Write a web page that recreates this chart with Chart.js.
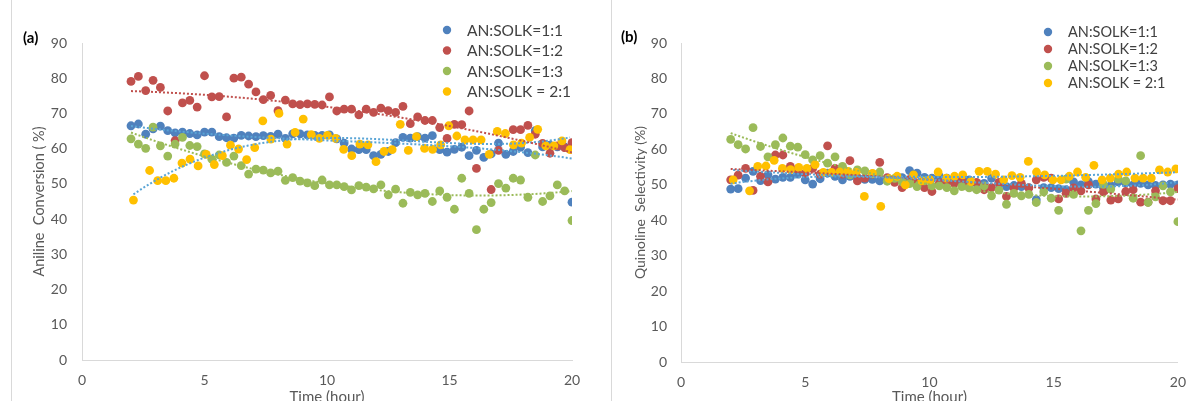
<!DOCTYPE html>
<html>
<head>
<meta charset="utf-8">
<script src="https://cdn.jsdelivr.net/npm/chart.js@4.4.0/dist/chart.umd.min.js"></script>
<style>
  body { margin:0; background:#fff; width:1198px; height:401px; overflow:hidden; position:relative; }
  .frame { position:absolute; top:0; width:0; height:401px; border-left:1px solid #d9d9d9; }
  canvas { position:absolute; top:0; }
</style>
</head>
<body>
<div class="frame" style="left:11px;"></div>
<div class="frame" style="left:611px;"></div>
<canvas id="chart-a" width="600" height="401" style="left:0;"></canvas>
<canvas id="chart-b" width="598" height="401" style="left:600px;"></canvas>
<script>
// ---- data ----
const seriesLabels = ['AN:SOLK=1:1', 'AN:SOLK=1:2', 'AN:SOLK=1:3', 'AN:SOLK = 2:1'];
const seriesColors = ['#4F81BD', '#C0504D', '#9BBB59', '#FFC000'];
const trendColors = ['#5AA5D6', '#C0504D', '#9BBB59', '#5AA5D6'];
const trendOrders = [3, 2, 2, 3];

// sampling times (hour) for 1:1, 1:2, 1:3
const timeHours = [2.0, 2.3, 2.6, 2.9, 3.2, 3.5, 3.8, 4.1, 4.4, 4.7,
    5.0, 5.3, 5.6, 5.9, 6.2, 6.5, 6.8, 7.1, 7.4, 7.7,
    8.0, 8.3, 8.6, 8.9, 9.2, 9.5, 9.8, 10.1, 10.4, 10.7,
    11.0, 11.3, 11.6, 11.9, 12.2, 12.5, 12.8, 13.1, 13.4, 13.7,
    14.0, 14.3, 14.6, 14.9, 15.2, 15.5, 15.8, 16.1, 16.4, 16.7,
    17.0, 17.3, 17.6, 17.9, 18.2, 18.5, 18.8, 19.1, 19.4, 19.7,
    20.0];
// sampling times (hour) for 2:1
const timeHours21 = [2.10, 2.43, 2.76, 3.09, 3.42, 3.75, 4.08, 4.41, 4.74, 5.07,
    5.40, 5.73, 6.06, 6.39, 6.72, 7.05, 7.38, 7.71, 8.04, 8.37,
    8.70, 9.03, 9.36, 9.69, 10.02, 10.35, 10.68, 11.01, 11.34, 11.67,
    12.00, 12.33, 12.66, 12.99, 13.32, 13.65, 13.98, 14.31, 14.64, 14.97,
    15.30, 15.63, 15.96, 16.29, 16.62, 16.95, 17.28, 17.61, 17.94, 18.27,
    18.60, 18.93, 19.26, 19.59, 19.92];

// (a) aniline conversion (%)
const convBlue = [66.5, 67.0, 64.1, 65.6, 66.4, 65.1, 64.5, 64.7, 64.3, 63.9,
    64.7, 64.7, 63.4, 63.1, 63.0, 63.8, 63.6, 63.4, 63.7, 63.5,
    64.1, 62.9, 64.2, 64.2, 63.9, 63.8, 63.8, 63.9, 62.8, 61.6,
    59.9, 59.7, 59.7, 58.0, 58.4, 59.2, 61.7, 63.2, 63.0, 63.4,
    63.0, 63.7, 59.7, 59.0, 59.8, 60.4, 58.0, 59.5, 57.5, 58.5,
    61.6, 58.4, 59.2, 60.4, 58.9, 65.1, 60.5, 61.0, 60.5, 60.5,
    44.8];
const convRed = [79.1, 80.5, 76.5, 79.4, 77.4, 70.7, 62.3, 73.0, 73.7, 71.8,
    80.7, 74.7, 74.8, 69.0, 80.0, 80.3, 78.3, 76.1, 73.9, 75.1,
    70.8, 73.8, 72.7, 72.5, 72.7, 72.6, 72.4, 74.7, 70.7, 71.2,
    71.2, 69.6, 71.2, 70.3, 71.5, 70.8, 70.3, 72.0, 67.1, 69.0,
    68.0, 68.0, 66.0, 62.9, 66.9, 66.8, 70.7, 54.4, null, 48.4,
    59.5, null, 65.4, 65.4, 66.6, 64.1, 61.5, 58.7, 60.8, 60.3,
    61.7];
const convGreen = [62.8, 61.3, 60.1, 66.1, 60.8, 57.9, 61.3, 63.2, 60.9, 60.6,
    58.5, 57.0, 58.2, 56.1, 57.9, 55.2, 52.8, 54.2, 53.9, 53.1,
    53.6, 51.0, 51.8, 50.8, 50.3, 49.5, 51.1, 49.7, 49.7, 49.2,
    48.3, 49.5, 49.1, 48.6, 49.7, 46.9, 48.5, 44.5, 47.6, 46.9,
    47.3, 45.0, 48.0, 46.2, 42.8, 51.6, 47.3, 37.0, 42.8, 44.7,
    50.1, 48.8, 51.6, 51.1, 46.2, 58.2, 45.0, 46.6, 49.7, 48.0,
    39.6];
const convOrange = [45.4, null, 53.8, 50.9, 50.9, 51.6, 55.9, 57.0, 55.1, 58.4,
    55.5, 58.0, 61.0, 59.9, 56.9, 60.3, 67.9, 62.7, 70.0, 61.3,
    64.6, 68.4, 64.0, 62.9, 63.8, 62.9, 59.8, 58.0, 61.3, 61.1,
    56.3, 59.2, 59.7, 66.9, 59.5, 63.4, 60.1, 59.8, 61.1, 66.5,
    63.6, 62.5, 62.5, 62.5, 58.4, 64.9, 64.3, 61.1, 61.6, 63.2,
    65.5, 60.8, 60.8, 62.2, 59.7];

// (b) quinoline selectivity (%)
const selBlue = [48.8, 48.9, 51.9, 53.8, 51.2, 52.8, 51.6, 52.1, 52.1, 53.0,
    51.4, 50.2, 51.7, 53.3, 52.4, 51.4, 52.4, 52.0, 51.5, 51.5,
    51.1, 51.5, 51.0, 52.0, 54.0, 53.3, 52.1, 51.9, 52.4, 51.9,
    50.9, 50.4, 51.4, 50.4, 50.4, 51.9, 50.4, 49.5, 49.8, 49.5,
    49.2, 45.8, 49.2, 49.2, 48.9, 48.6, 50.8, 50.0, 50.9, 50.2,
    49.2, 49.8, 50.8, 50.5, 50.0, 50.4, 50.0, 49.8, 50.0, 50.2,
    50.0];
const selRed = [51.4, 52.7, 54.6, 48.4, 52.4, 50.8, 58.4, 58.4, 55.2, 54.5,
    53.3, 54.6, 53.0, 61.0, 54.6, 53.0, 56.8, 51.1, 51.9, 53.0,
    56.3, 52.0, 50.7, 49.2, 51.5, 50.5, 49.2, 48.1, 50.5, 50.9,
    50.4, 51.4, 50.0, 50.7, 48.6, 49.2, 50.7, 46.7, 49.1, 50.4,
    49.1, 51.4, 52.1, 51.9, 46.0, 47.6, 49.1, 48.3, 50.0, 46.0,
    48.0, 45.7, 46.0, 48.1, 48.6, 45.1, 45.1, 48.3, 45.5, 45.5,
    48.9];
const selGreen = [62.8, 61.3, 60.1, 66.1, 60.8, 57.9, 61.3, 63.2, 60.9, 60.6,
    58.5, 57.0, 58.2, 56.1, 57.9, 55.2, 52.8, 54.2, 53.9, 53.1,
    53.6, 51.0, 51.8, 50.8, 50.3, 49.5, 51.1, 49.7, 49.7, 49.2,
    48.3, 49.5, 49.1, 48.6, 49.7, 46.9, 48.5, 44.5, 47.6, 46.9,
    47.3, 45.0, 48.0, 46.2, 42.8, 51.6, 47.3, 37.0, 42.8, 44.7,
    50.1, 48.8, 51.6, 51.1, 46.2, 58.2, 45.0, 46.6, 49.7, 48.0,
    39.6];
const selOrange = [51.4, null, 48.3, 55.2, 55.3, 56.9, 54.6, 54.3, 54.9, 54.6,
    55.7, 53.5, 53.5, 53.6, 53.8, 53.5, 46.7, 53.2, 43.9, 51.7,
    52.4, 50.0, 52.8, 51.1, 51.4, 53.6, 51.9, 52.4, 52.8, 50.9,
    53.8, 53.8, 53.0, 51.4, 52.6, 52.1, 56.6, 53.6, 52.8, 51.4,
    51.4, 52.4, 53.6, 52.1, 55.5, 51.4, 51.9, 53.0, 53.6, 51.9,
    51.9, 51.9, 54.2, 53.6, 54.5];

const xTicks = [0, 5, 10, 15, 20];
const yTicks = [0, 10, 20, 30, 40, 50, 60, 70, 80, 90];

const FONT = 'Lato, "Open Sans", sans-serif';

function toPoints(xs, ys) {
    return xs.map((x, i) => ({ x: x, y: ys[i] })).filter(p => p.y !== null);
}

// least-squares polynomial trendline (like the spreadsheet trendline)
function polyTrend(points, order) {
    const n = order + 1;
    const m = [];
    for (let i = 0; i < n; i++) m.push(new Array(n + 1).fill(0));
    points.forEach(p => {
        for (let i = 0; i < n; i++) {
            for (let j = 0; j < n; j++) m[i][j] += Math.pow(p.x, i + j);
            m[i][n] += Math.pow(p.x, i) * p.y;
        }
    });
    for (let i = 0; i < n; i++) {
        for (let j = i + 1; j < n; j++) {
            const f = m[j][i] / m[i][i];
            for (let k = i; k <= n; k++) m[j][k] -= f * m[i][k];
        }
    }
    const c = new Array(n).fill(0);
    for (let i = n - 1; i >= 0; i--) {
        let v = m[i][n];
        for (let k = i + 1; k < n; k++) v -= m[i][k] * c[k];
        c[i] = v / m[i][i];
    }
    const x0 = points[0].x, x1 = points[points.length - 1].x;
    const out = [];
    for (let i = 0; i <= 80; i++) {
        const x = x0 + (x1 - x0) * i / 80;
        let y = 0;
        for (let k = 0; k < n; k++) y += c[k] * Math.pow(x, k);
        out.push({ x: x, y: y });
    }
    return out;
}

function buildDatasets(seriesValues) {
    const scatter = [], trends = [];
    seriesValues.forEach((vals, i) => {
        const xs = i === 3 ? timeHours21 : timeHours;
        const pts = toPoints(xs, vals);
        scatter.push({
            label: seriesLabels[i], data: pts, legend: true,
            backgroundColor: seriesColors[i], borderColor: seriesColors[i],
            pointRadius: 4.4, pointBorderWidth: 0, order: 4 - i
        });
        trends.push({
            label: seriesLabels[i] + ' trend', data: polyTrend(pts, trendOrders[i]), showLine: true,
            borderColor: trendColors[i], borderWidth: 2, borderDash: [2, 2],
            pointRadius: 0, fill: false, order: 0
        });
    });
    return scatter.concat(trends);
}

const panelText = {
    id: 'panelText',
    afterDraw(chart, args, opts) {
        const ctx = chart.ctx;
        ctx.save();
        ctx.fillStyle = '#000';
        ctx.font = 'bold 15px ' + FONT;
        ctx.textAlign = 'left';
        ctx.textBaseline = 'middle';
        ctx.fillText(opts.letter, opts.letterX, opts.letterY);

        // axis titles
        ctx.fillStyle = '#595959';
        ctx.font = opts.xTitleSize + 'px ' + FONT;
        ctx.textAlign = 'center';
        ctx.fillText('Time (hour)', (chart.chartArea.left + chart.chartArea.right) / 2, opts.xTitleY);
        ctx.save();
        ctx.font = opts.yTitleSize + 'px ' + FONT;
        ctx.translate(opts.yTitleX, (chart.chartArea.top + chart.chartArea.bottom) / 2);
        ctx.rotate(-Math.PI / 2);
        ctx.fillText(opts.yTitle, 0, 0);
        ctx.restore();

        // legend
        ctx.textAlign = 'left';
        ctx.font = opts.legendSize + 'px ' + FONT;
        let row = 0;
        chart.data.datasets.forEach(ds => {
            if (!ds.legend) return;
            const y = opts.legendY + row * opts.legendStep;
            ctx.fillStyle = ds.backgroundColor;
            ctx.beginPath();
            ctx.arc(opts.legendX, y, 4.2, 0, Math.PI * 2);
            ctx.fill();
            ctx.fillStyle = '#404040';
            ctx.fillText(ds.label, opts.legendX + 20, y + 0.5);
            row++;
        });
        ctx.restore();
    }
};

function makeChart(id, datasets, text, pad, yTickPad, xAxisH) {
    new Chart(document.getElementById(id), {
        type: 'scatter',
        data: { datasets: datasets },
        options: {
            responsive: false, animation: false, devicePixelRatio: 1,
            layout: { padding: pad, autoPadding: false },
            plugins: { legend: { display: false }, tooltip: { enabled: false }, panelText: text },
            scales: {
                x: {
                    type: 'linear', min: 0, max: 20,
                    afterFit: s => { s.height = xAxisH; },
                    afterBuildTicks: s => { s.ticks = xTicks.map(v => ({ value: v })); },
                    grid: { display: false, drawTicks: false },
                    border: { color: '#D9D9D9', width: 1 },
                    ticks: { color: '#595959', padding: 12, font: { family: FONT, size: 14 } }
                },
                y: {
                    min: 0, max: 90,
                    afterFit: s => { s.width = pad.yAxisW; },
                    afterBuildTicks: s => { s.ticks = yTicks.map(v => ({ value: v })); },
                    grid: { display: false, drawTicks: false },
                    border: { color: '#D9D9D9', width: 1 },
                    ticks: { color: '#595959', padding: yTickPad, font: { family: FONT, size: 14 } }
                }
            }
        },
        plugins: [panelText]
    });
}

makeChart('chart-a',
    buildDatasets([convBlue, convRed, convGreen, convOrange]),
    { letter: '(a)', letterX: 23, letterY: 38, yTitle: 'Aniline  Conversion ( %)', yTitleX: 39, yTitleSize: 14.5,
      xTitleY: 397, xTitleSize: 15, legendX: 447, legendY: 30, legendStep: 20.5, legendSize: 15.5 },
    { left: 0, right: 28, top: 43, bottom: 0, yAxisW: 82 }, 15, 41);

makeChart('chart-b',
    buildDatasets([selBlue, selRed, selGreen, selOrange]),
    { letter: '(b)', letterX: 21, letterY: 37, yTitle: 'Quinoline  Selectivity (%)', yTitleX: 40, yTitleSize: 14,
      xTitleY: 397, xTitleSize: 15, legendX: 448, legendY: 32, legendStep: 17, legendSize: 14.5 },
    { left: 0, right: 14, top: 43, bottom: 0, yAxisW: 81 }, 14, 39);
</script>
</body>
</html>
